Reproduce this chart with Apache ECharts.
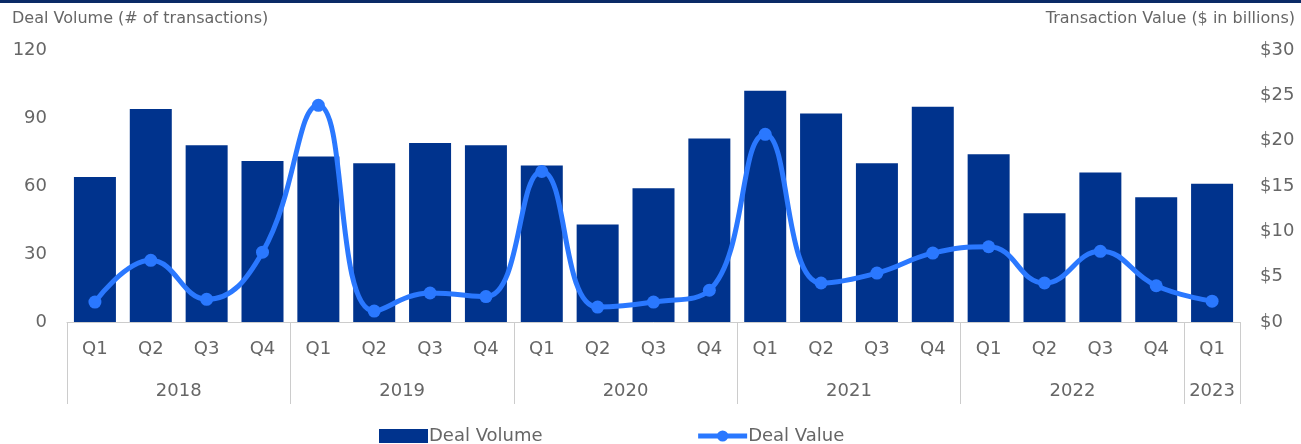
<!DOCTYPE html>
<html><head><meta charset="utf-8">
<script src="https://cdn.jsdelivr.net/npm/echarts@6/dist/echarts.min.js"></script>
<style>html,body{margin:0;padding:0;background:#fff}#c{width:1301px;height:444px}</style>
</head><body><div id="c"></div>
<script>
const quarters = ['Q1','Q2','Q3','Q4','Q1','Q2','Q3','Q4','Q1','Q2','Q3','Q4','Q1','Q2','Q3','Q4','Q1','Q2','Q3','Q4','Q1'];
const years = ['2018','2019','2020','2021','2022','2023'];
const yearCenters = [2, 6, 10, 14, 18, 20.5];
const yearBounds = [0, 4, 8, 12, 16, 20, 21];
const dealVolume = [64, 94, 78, 71, 73, 70, 79, 78, 69, 43, 59, 81, 102, 92, 70, 95, 74, 48, 66, 55, 61];
const dealValue = [2.2, 6.8, 2.5, 7.7, 23.9, 1.2, 3.2, 2.8, 16.6, 1.65, 2.2, 3.5, 20.7, 4.3, 5.4, 7.6, 8.3, 4.3, 7.8, 4.0, 2.3];
const leftTicks = {min: 0, max: 120, interval: 30};
const rightTicks = {min: 0, max: 30, interval: 5};

const font = 'DejaVu Sans, sans-serif';
const grey = '#666666';
const chart = echarts.init(document.getElementById('c'), null, {renderer: 'canvas'});
chart.setOption({
  animation: false,
  textStyle: {fontFamily: font},
  grid: {left: 67, right: 61, top: 50, bottom: 122, containLabel: false},
  graphic: [
    {type: 'rect', left: 0, top: 0, shape: {width: 1301, height: 3}, style: {fill: '#0b2a66'}},
    {type: 'text', left: 12, top: 11, style: {text: 'Deal Volume (# of transactions)', font: '16px ' + font, fill: grey}},
    {type: 'text', right: 6, top: 11, style: {text: 'Transaction Value ($ in billions)', font: '16px ' + font, fill: grey}}
  ],
  legend: {
    top: 427, left: 379, padding: 0,
    itemWidth: 49, itemHeight: 14, itemGap: 153,
    textStyle: {fontSize: 18, color: grey, fontFamily: font, padding: [0, 0, 0, -4]},
    lineStyle: {width: 5},
    data: [{name: 'Deal Volume', icon: 'rect'}, {name: 'Deal Value'}]
  },
  xAxis: [
    {
      type: 'category', data: quarters, position: 'bottom',
      axisLine: {lineStyle: {color: '#cccccc', width: 1}},
      axisTick: {show: false},
      axisLabel: {color: grey, fontSize: 18, margin: 18, fontFamily: font}
    },
    {
      type: 'value', min: 0, max: 21, position: 'bottom',
      axisLine: {show: false},
      splitLine: {show: false},
      axisTick: {show: true, length: 82, lineStyle: {color: '#cccccc'}, customValues: yearBounds},
      axisLabel: {
        color: grey, fontSize: 18, margin: 60, fontFamily: font,
        customValues: yearCenters,
        formatter: v => years[yearCenters.indexOf(v)] || ''
      }
    }
  ],
  yAxis: [
    {
      type: 'value', min: leftTicks.min, max: leftTicks.max, interval: leftTicks.interval,
      axisLine: {show: false}, axisTick: {show: false}, splitLine: {show: false},
      axisLabel: {color: grey, fontSize: 18, margin: 20, fontFamily: font}
    },
    {
      type: 'value', min: rightTicks.min, max: rightTicks.max, interval: rightTicks.interval,
      axisLine: {show: false}, axisTick: {show: false}, splitLine: {show: false},
      axisLabel: {color: grey, fontSize: 18, margin: 20, fontFamily: font, formatter: v => '$' + v}
    }
  ],
  series: [
    {
      name: 'Deal Volume', type: 'bar', data: dealVolume, xAxisIndex: 0, yAxisIndex: 0,
      barWidth: 42, itemStyle: {color: '#00338d'}
    },
    {
      name: 'Deal Value', type: 'line', data: dealValue, xAxisIndex: 0, yAxisIndex: 1,
      smooth: 0.45, symbol: 'circle', symbolSize: 13,
      lineStyle: {width: 5, color: '#2a78ff'}, itemStyle: {color: '#2a78ff'}
    }
  ]
});
</script></body></html>
